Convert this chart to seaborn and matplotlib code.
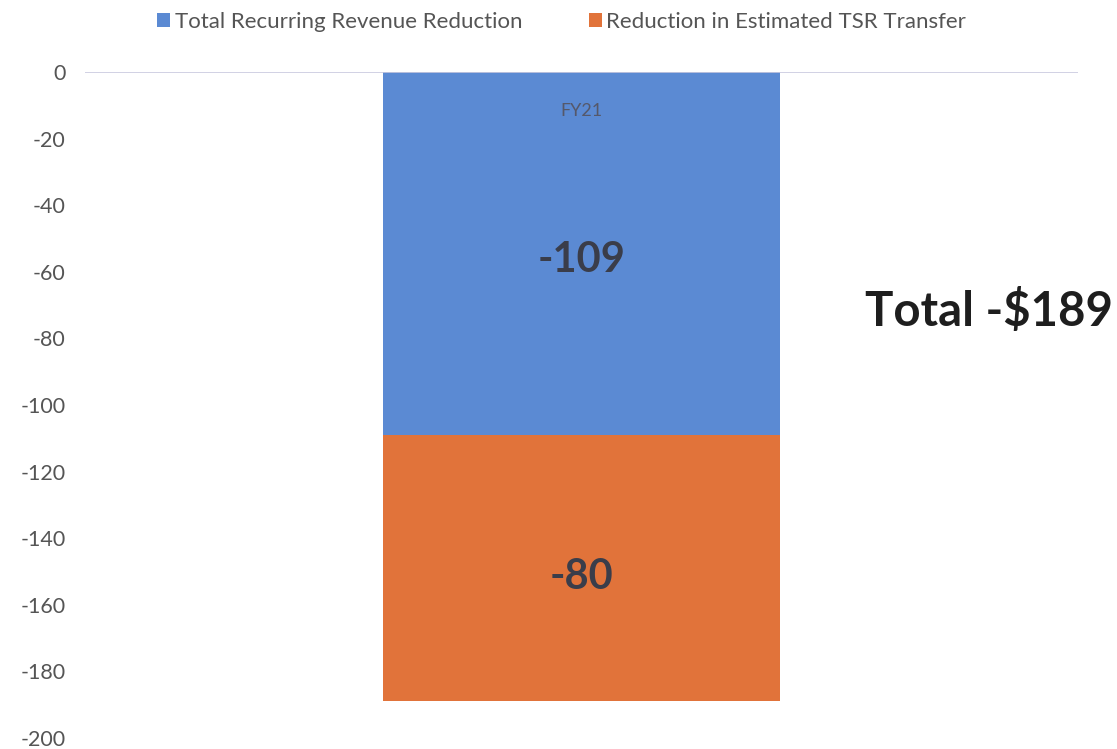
import pandas as pd
import matplotlib.pyplot as plt
import seaborn as sns

# data ($M)
categories = ["FY21"]
recurring_revenue = [-109]
tsr_transfer = [-80]
series_names = ["Total Recurring Revenue Reduction", "Reduction in Estimated TSR Transfer"]
total_label = "Total -$189"

blue = "#5b8ad3"
orange = "#e1733a"

sns.set_theme(style="white")
plt.rcParams['font.family'] = ['Lato', 'DejaVu Sans']
plt.rcParams['axes.unicode_minus'] = False

df = pd.DataFrame({"cat": categories, "rec": recurring_revenue, "tsr": tsr_transfer})

fig = plt.figure(figsize=(11.17, 7.49), dpi=100)
ax = fig.add_axes([0.076, 0.0147, 0.889, 0.889])

sns.barplot(data=df, x="cat", y="rec", color=blue, width=0.4, ax=ax,
            label=series_names[0], saturation=1, linewidth=0)
sns.barplot(data=df, x="cat", y="tsr", color=orange, width=0.4, ax=ax,
            bottom=df["rec"], label=series_names[1], saturation=1, linewidth=0)

# segment labels
for i, (r, t) in enumerate(zip(recurring_revenue, tsr_transfer)):
    ax.text(i, r / 2 - 2, str(r), ha="center", va="center", fontsize=30,
            fontweight="bold", color="#3a3d4a")
    ax.text(i, r + t / 2 - 2.5, str(t), ha="center", va="center", fontsize=30,
            fontweight="bold", color="#3a3d4a")

ax.text(0.286, -72, total_label, ha="left", va="center", fontsize=34,
        fontweight="bold", color="#1e1e1e", clip_on=False)

ax.set_ylim(-200, 0)
ax.set_xlim(-0.5, 0.5)
ax.set_yticks(range(-200, 1, 20))
ax.set_xlabel("")
ax.set_ylabel("")
ax.tick_params(axis="y", length=0, labelsize=15.5, labelcolor="#555555", pad=14)

# category label sits at the zero line, inside the bar (Excel style)
ax.set_axisbelow(False)
ax.xaxis.tick_top()
ax.tick_params(axis="x", length=0, labelsize=13, labelcolor="#55586a", pad=-34)

for s in ax.spines.values():
    s.set_visible(False)
ax.axhline(0, color="#c9c9df", lw=1.2, zorder=3)

leg = ax.legend(loc="center", bbox_to_anchor=(0.48, 1.075), ncol=2,
                frameon=False, fontsize=16, handlelength=0.6, handleheight=0.6,
                handletextpad=0.2, columnspacing=3.0)
for txt in leg.get_texts():
    txt.set_color("#555555")

fig.savefig("out.png", dpi=100)
